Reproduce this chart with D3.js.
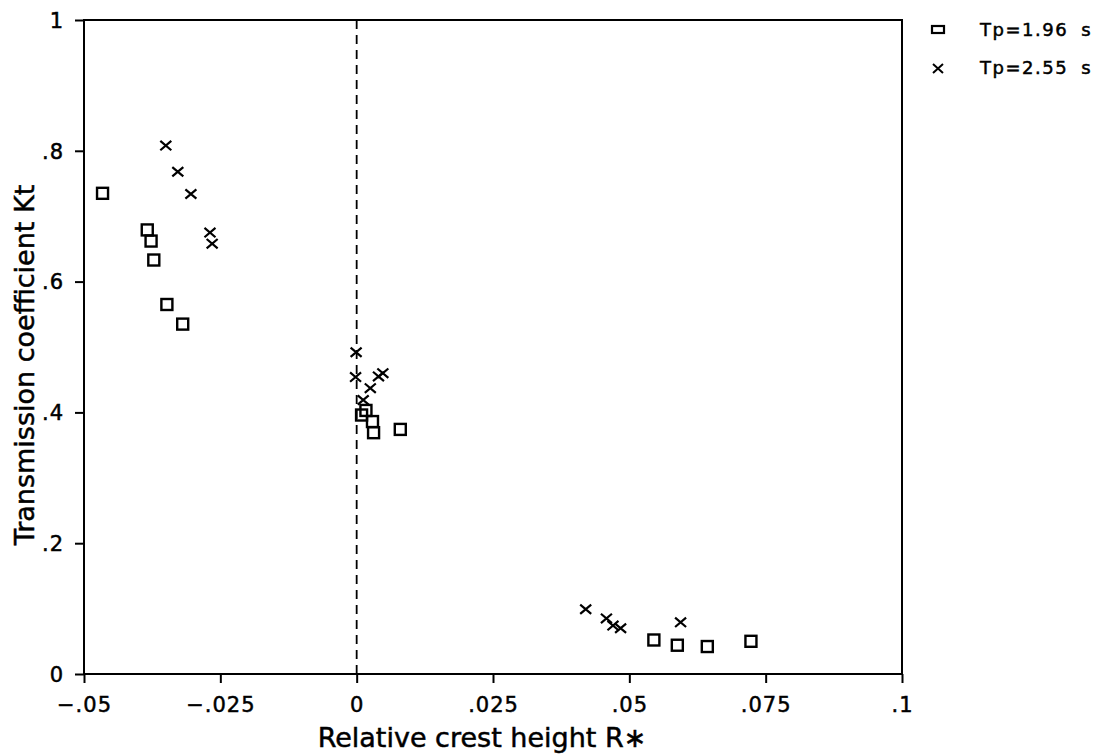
<!DOCTYPE html>
<html>
<meta charset="UTF-8" />
<script src="https://cdn.jsdelivr.net/npm/d3@7/dist/d3.min.js"></script>
<style>
*{margin:0; padding:0;}
body{background:#fff;}
svg text{font-family:"DejaVu Sans", sans-serif; fill:#000; stroke:#000; stroke-width:0.5px;}
</style>
<body>
<div id="chart"></div>
<script>
// Tp=1.96 s (squares)
var sqX = [-0.0466, -0.0384, -0.0377, -0.0372, -0.0348, -0.0319,
	0.0017, 0.0009, 0.0029, 0.0031, 0.0080,
	0.0545, 0.0588, 0.0643, 0.0723];
var sqY = [0.735, 0.679, 0.662, 0.633, 0.565, 0.535,
	0.403, 0.396, 0.386, 0.369, 0.374,
	0.052, 0.044, 0.042, 0.050];
// Tp=2.55 s (crosses)
var crX = [-0.0350, -0.0328, -0.0304, -0.0269, -0.0265,
	-0.0001, -0.0002, 0.0025, 0.0040, 0.0048, 0.0012,
	0.0420, 0.0458, 0.0470, 0.0484, 0.0594];
var crY = [0.808, 0.768, 0.734, 0.675, 0.658,
	0.492, 0.454, 0.437, 0.455, 0.460, 0.419,
	0.099, 0.085, 0.074, 0.070, 0.079];

var xTicks = [-0.05, -0.025, 0, 0.025, 0.05, 0.075, 0.1];
var xTickLabels = ["\u2212.05", "\u2212.025", "0", ".025", ".05", ".075", ".1"];
var yTicks = [0, 0.2, 0.4, 0.6, 0.8, 1];
var yTickLabels = ["0", ".2", ".4", ".6", ".8", "1"];
var legendLabels = ["Tp=1.96 s", "Tp=2.55 s"];

var width = 1102, height = 756;
var svg = d3.select("#chart").append("svg")
	.attr("width", width)
	.attr("height", height);

var x = d3.scaleLinear().domain([-0.05, 0.1]).range([84, 902]);
var y = d3.scaleLinear().domain([0, 1]).range([674, 20]);

// frame
svg.append("rect")
	.attr("x", x(-0.05)).attr("y", y(1))
	.attr("width", x(0.1) - x(-0.05)).attr("height", y(0) - y(1))
	.attr("fill", "none").attr("stroke", "#000").attr("stroke-width", 2);

// axes
var xAxis = d3.axisBottom(x).tickValues(xTicks)
	.tickFormat(function(d, i){ return xTickLabels[i]; })
	.tickSize(9).tickPadding(14);
var gx = svg.append("g").attr("transform", "translate(0," + y(0) + ")").call(xAxis);

var yAxis = d3.axisLeft(y).tickValues(yTicks)
	.tickFormat(function(d, i){ return yTickLabels[i]; })
	.tickSize(9).tickPadding(11);
var gy = svg.append("g").attr("transform", "translate(" + x(-0.05) + ",0)").call(yAxis);

[gx, gy].forEach(function(g){
	g.select(".domain").remove();
	g.selectAll("line").attr("stroke", "#000").attr("stroke-width", 2);
	g.selectAll("text")
		.style("font-family", "DejaVu Sans, sans-serif")
		.style("font-size", "21px")
		.style("letter-spacing", "1px")
		.attr("fill", "#000");
});
gy.selectAll("text").attr("dy", "0.35em");

// dashed zero line
svg.append("line")
	.attr("x1", x(0)).attr("x2", x(0))
	.attr("y1", y(1)).attr("y2", y(0))
	.attr("stroke", "#000").attr("stroke-width", 1.8)
	.attr("stroke-dasharray", "9,6");

// markers
var sqData = sqX.map(function(v, i){ return [v, sqY[i]]; });
var crData = crX.map(function(v, i){ return [v, crY[i]]; });
var s = 5.5, c = 5.5;

svg.append("g").selectAll("rect").data(sqData).enter().append("rect")
	.attr("x", function(d){ return x(d[0]) - s; })
	.attr("y", function(d){ return y(d[1]) - s; })
	.attr("width", 2 * s).attr("height", 2 * s)
	.attr("fill", "none").attr("stroke", "#000").attr("stroke-width", 2.4);

svg.append("g").selectAll("path").data(crData).enter().append("path")
	.attr("d", function(d){
		var px = x(d[0]), py = y(d[1]);
		return "M" + (px - c) + "," + (py - c * 0.85) + "L" + (px + c) + "," + (py + c * 0.85) +
			"M" + (px - c) + "," + (py + c * 0.85) + "L" + (px + c) + "," + (py - c * 0.85);
	})
	.attr("fill", "none").attr("stroke", "#000").attr("stroke-width", 2.2);

// axis titles
svg.append("text")
	.attr("x", 482).attr("y", 747)
	.attr("text-anchor", "middle")
	.style("font-size", "27px")
	.text("Relative crest height R\u2217");

svg.append("text")
	.attr("transform", "translate(34,365) rotate(-90)")
	.attr("text-anchor", "middle")
	.style("font-size", "27px")
	.text("Transmission coefficient Kt");

// legend
var lg = svg.append("g");
lg.append("rect")
	.attr("x", 932).attr("y", 26).attr("width", 12).attr("height", 7)
	.attr("fill", "none").attr("stroke", "#000").attr("stroke-width", 2.2);
lg.append("path")
	.attr("d", "M933,64L943,73M933,73L943,64")
	.attr("stroke", "#000").attr("stroke-width", 2);
lg.selectAll("text").data(legendLabels).enter().append("text")
	.attr("x", 980)
	.attr("y", function(d, i){ return i === 0 ? 30 : 68; })
	.attr("dy", "0.35em")
	.style("font-size", "18px")
	.style("letter-spacing", "1.5px")
	.style("word-spacing", "6px")
	.text(function(d){ return d; });
</script>
</body>
</html>
